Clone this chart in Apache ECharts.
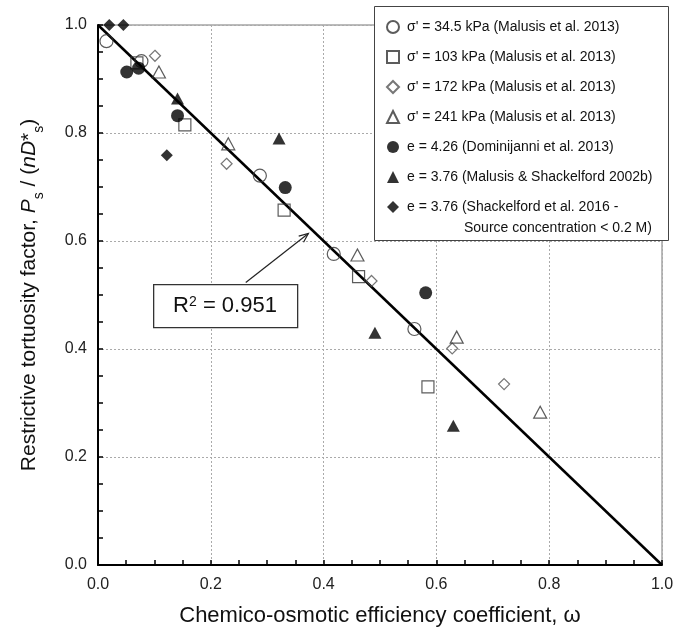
<!DOCTYPE html>
<html><head><meta charset="utf-8">
<script src="https://cdn.jsdelivr.net/npm/echarts@6/dist/echarts.min.js"></script>
<style>html,body{margin:0;padding:0;background:#fff}#c{width:683px;height:642px}</style>
</head><body><div id="c"></div>
<script>
var FONT = "'Liberation Sans Narrow','Arial Narrow','Liberation Sans',Arial,sans-serif";
var seriesNames = [
  "\u03c3' = 34.5 kPa (Malusis et al. 2013)",
  "\u03c3' = 103 kPa (Malusis et al. 2013)",
  "\u03c3' = 172 kPa (Malusis et al. 2013)",
  "\u03c3' = 241 kPa (Malusis et al. 2013)",
  "e = 4.26 (Dominijanni et al. 2013)",
  "e = 3.76 (Malusis & Shackelford 2002b)",
  "e = 3.76 (Shackelford et al. 2016 -"
];
var legendExtraLine = "Source concentration < 0.2 M)";
var sigma34 = [[0.015,0.970],[0.077,0.933],[0.287,0.721],[0.418,0.576],[0.561,0.437]];
var sigma103 = [[0.069,0.930],[0.154,0.815],[0.330,0.657],[0.462,0.534],[0.585,0.330]];
var sigma172 = [[0.101,0.943],[0.228,0.743],[0.485,0.526],[0.628,0.401],[0.720,0.335]];
var sigma241 = [[0.108,0.913],[0.231,0.780],[0.460,0.574],[0.636,0.422],[0.784,0.283]];
var domin = [[0.051,0.913],[0.072,0.920],[0.141,0.832],[0.332,0.699],[0.581,0.504]];
var malusis = [[0.141,0.864],[0.321,0.790],[0.491,0.430],[0.630,0.258]];
var shack = [[0.020,1.0],[0.045,1.0],[0.122,0.759]];
var fitLine = [[0,1],[1,0]];
var r2Text = "0.951";
var arrowFrom = [0.262,0.523], arrowTo = [0.373,0.614];

var chart = echarts.init(document.getElementById('c'));
function sc(name, data, symbol, size, filled, color){
  return {type:'scatter', name:name, data:data, symbol:symbol, symbolSize:size, clip:false, z:3,
    itemStyle:{color: filled ? color : 'rgba(255,255,255,0)', borderColor: color, borderWidth: filled?0:1.2}};
}
var option = {
  animation:false,
  textStyle:{fontFamily:FONT},
  grid:{left:98,right:21,top:25,bottom:77,show:true,borderColor:'#777',borderWidth:1,backgroundColor:'#fff'},
  xAxis:{type:'value',min:0,max:1,interval:0.2,
    axisLine:{lineStyle:{color:'#000',width:2}},
    axisTick:{inside:true,length:5,lineStyle:{color:'#000',width:1.5}},
    minorTick:{show:true,splitNumber:4,length:5,lineStyle:{color:'#000',width:1.5}},
    splitLine:{lineStyle:{color:'#aaa',type:[2,2],width:1}},
    axisLabel:{color:'#222',fontSize:16,margin:12,fontFamily:FONT,formatter:function(v){return v.toFixed(1);}},
    name:'Chemico-osmotic efficiency coefficient, \u03c9',nameLocation:'middle',nameGap:40,
    nameTextStyle:{color:'#111',fontSize:22,fontFamily:FONT}},
  yAxis:{type:'value',min:0,max:1,interval:0.2,
    axisLine:{lineStyle:{color:'#000',width:2}},
    axisTick:{inside:true,length:5,lineStyle:{color:'#000',width:1.5}},
    minorTick:{show:true,splitNumber:4,length:5,lineStyle:{color:'#000',width:1.5}},
    splitLine:{lineStyle:{color:'#aaa',type:[2,2],width:1}},
    axisLabel:{color:'#222',fontSize:16,margin:11,fontFamily:FONT,formatter:function(v){return v.toFixed(1);}},
    name:'Restrictive tortuosity factor, {i|P}{sub|s}{n| / (}{i|nD}{n|*}{sub|s}{n|)}',nameLocation:'middle',nameGap:58,
    nameTextStyle:{color:'#111',fontSize:21,fontFamily:FONT,
      rich:{i:{fontStyle:'italic',fontSize:21,fontFamily:FONT,color:'#111'},
            n:{fontSize:21,fontFamily:FONT,color:'#111'},
            sub:{fontSize:14,fontFamily:FONT,color:'#111',verticalAlign:'bottom',padding:[0,0,-6,0]}}}},
  legend:{orient:'vertical',left:386,top:20,itemWidth:12,itemHeight:12,itemGap:16,padding:0,
    data:seriesNames,
    textStyle:{fontSize:14,color:'#111',fontFamily:FONT,padding:[0,0,0,3]}},
  series:[
    {type:'line',data:fitLine,symbol:'none',lineStyle:{color:'#000',width:2.5},z:2,silent:true},
    sc(seriesNames[0], sigma34, 'circle', 13, false, '#333'),
    sc(seriesNames[1], sigma103, 'rect', 12, false, '#333'),
    sc(seriesNames[2], sigma172, 'diamond', [11,11], false, '#555'),
    sc(seriesNames[3], sigma241, 'triangle', [13,12], false, '#333'),
    sc(seriesNames[4], domin, 'circle', 13, true, '#000'),
    sc(seriesNames[5], malusis, 'triangle', [13,12], true, '#000'),
    sc(seriesNames[6], shack, 'diamond', [12,12], true, '#000')
  ]
};
chart.setOption(option);
var p0 = chart.convertToPixel({gridIndex:0}, arrowFrom);
var p1 = chart.convertToPixel({gridIndex:0}, arrowTo);
var ang = Math.atan2(p1[1]-p0[1], p1[0]-p0[0]);
var hl = 10, ha = 0.4;
var h1 = [p1[0]-hl*Math.cos(ang-ha), p1[1]-hl*Math.sin(ang-ha)];
var h2 = [p1[0]-hl*Math.cos(ang+ha), p1[1]-hl*Math.sin(ang+ha)];
chart.setOption({graphic:[
  {type:'rect',left:374,top:6,shape:{width:294,height:234},style:{fill:'#fff',stroke:'#444',lineWidth:1},z:0,zlevel:0},
  {type:'text',left:464,top:221,style:{text:legendExtraLine,font:'14px '+FONT,fill:'#111'},z:10},
  {type:'line',shape:{x1:p0[0],y1:p0[1],x2:p1[0],y2:p1[1]},style:{stroke:'#222',lineWidth:1.2},z:10},
  {type:'polyline',shape:{points:[h1,p1,h2]},style:{stroke:'#222',lineWidth:1.2,fill:null},z:10},
  {type:'rect',left:153,top:284,shape:{width:144,height:43},style:{fill:'#fff',stroke:'#333',lineWidth:1.3},z:10},
  {type:'text',x:225,y:306,style:{text:'R{s|2} = '+r2Text,font:'22px '+FONT,fill:'#111',align:'center',verticalAlign:'middle',
    rich:{s:{fontSize:14,fontFamily:FONT,verticalAlign:'top',padding:[0,0,8,0]}}},z:11}
]});
</script></body></html>
